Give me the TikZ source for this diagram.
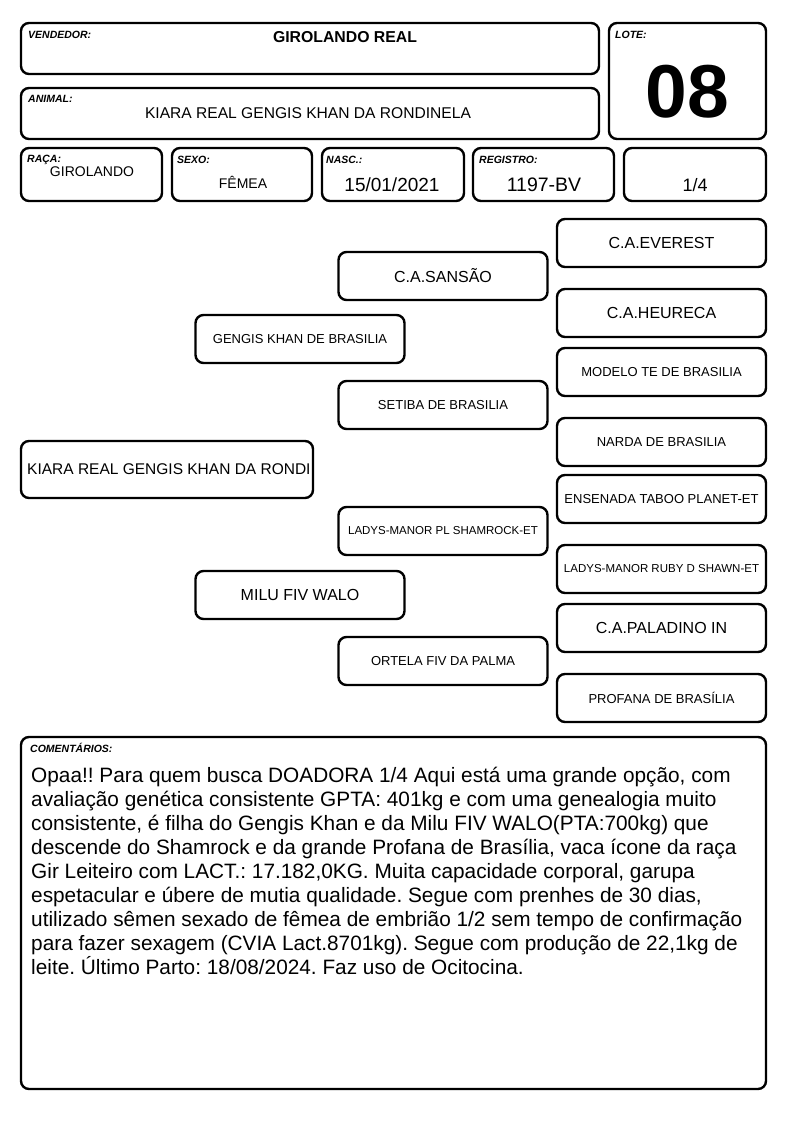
\documentclass[tikz,border=0pt]{standalone}
\usepackage{fontspec}
\setmainfont{Liberation Sans}
\usetikzlibrary{fit}

\begin{document}
\frenchspacing
\begin{tikzpicture}[x=1pt,y=-1pt]
\tikzset{card/.style={draw,line width=2.4pt,rounded corners=8pt,inner sep=0pt}}
\tikzset{tag/.style={anchor=base west,inner sep=0pt,font=\fontsize{10.5}{12}\selectfont\bfseries\itshape}}
\tikzset{ped/.style={card,minimum width=209pt,minimum height=48pt}}
\tikzset{pedbig/.style={font=\fontsize{16}{19}\selectfont}}
\tikzset{pedmid/.style={font=\fontsize{13}{15}\selectfont}}
\tikzset{pedsmall/.style={font=\fontsize{11.5}{14}\selectfont}}
\tikzset{val/.style={anchor=base,inner sep=0pt}}

\useasboundingbox (0,0) rectangle (794,1123);

% header
\node[card,fit={(21,23) (599,74)}] (vendedor) {};
\node[card,fit={(21,88) (599,139)}] (animal) {};
\node[card,fit={(609,23) (766,139)}] (lote) {};
\node[card,fit={(21,148) (162,201)}] (raca) {};
\node[card,fit={(172,148) (312,201)}] (sexo) {};
\node[card,fit={(322,148) (464,201)}] (nasc) {};
\node[card,fit={(473,148) (614,201)}] (registro) {};
\node[card,fit={(624,148) (766,201)}] (grau) {};

\node[tag] (vendedortag) at (28,39) {VENDEDOR:};
\node[tag] (animaltag) at (28,103) {ANIMAL:};
\node[tag] (lotetag) at (615,39) {LOTE:};
\node[tag] (racatag) at (27,163) {RAÇA:};
\node[tag] (sexotag) at (177,164) {SEXO:};
\node[tag] (nasctag) at (326,164) {NASC.:};
\node[tag] (registrotag) at (479,164) {REGISTRO:};

\node[val,font=\fontsize{15.8}{18}\selectfont\bfseries] (vendedorval) at (345,43) {GIROLANDO REAL};
\node[val,font=\fontsize{15.6}{18}\selectfont] (animalval) at (308,118.5) {KIARA REAL GENGIS KHAN DA RONDINELA};
\node[val,font=\fontsize{75}{80}\selectfont\bfseries] (loteval) at (687.5,118) {08};
\node[val,font=\fontsize{14}{17}\selectfont] (racaval) at (92,177) {GIROLANDO};
\node[val,font=\fontsize{14}{17}\selectfont] (sexoval) at (243,189) {FÊMEA};
\node[val,font=\fontsize{19}{21}\selectfont] (nascval) at (392,192) {15/01/2021};
\node[val,font=\fontsize{19.5}{21}\selectfont] (registroval) at (544,192) {1197-BV};
\node[val,font=\fontsize{18}{21}\selectfont] (grauval) at (695,192) {1/4};

% pedigree
\node[card,minimum width=292pt,minimum height=57pt] (kiara) at (167,469.5) {};
\node[anchor=west,inner sep=0pt,font=\fontsize{15.5}{19}\selectfont] (kiaraval) at (27,469.5) {KIARA REAL GENGIS KHAN DA RONDI};

\node[ped,pedmid] (gengis) at (300,339) {GENGIS KHAN DE BRASILIA};
\node[ped,pedbig] (milu) at (300,595) {MILU FIV WALO};

\node[ped,pedbig] (sansao) at (443,276) {C.A.SANSÃO};
\node[ped,pedmid] (setiba) at (443,405) {SETIBA DE BRASILIA};
\node[ped,pedsmall] (shamrock) at (443,531) {LADYS-MANOR PL SHAMROCK-ET};
\node[ped,pedmid] (ortela) at (443,661) {ORTELA FIV DA PALMA};

\node[ped,pedbig] (everest) at (661.5,243) {C.A.EVEREST};
\node[ped,pedbig] (heureca) at (661.5,313) {C.A.HEURECA};
\node[ped,pedmid] (modelo) at (661.5,372) {MODELO TE DE BRASILIA};
\node[ped,pedmid] (narda) at (661.5,442) {NARDA DE BRASILIA};
\node[ped,pedmid] (ensenada) at (661.5,499) {ENSENADA TABOO PLANET-ET};
\node[ped,pedsmall] (ruby) at (661.5,569) {LADYS-MANOR RUBY D SHAWN-ET};
\node[ped,pedbig] (paladino) at (661.5,628) {C.A.PALADINO IN};
\node[ped,pedmid] (profana) at (661.5,698) {PROFANA DE BRASÍLIA};

% comentarios
\node[card,fit={(21,737) (766,1089)}] (comentarios) {};
\node[tag] (comentariostag) at (30,752) {COMENTÁRIOS:};
\node[anchor=north west,inner sep=0pt,align=left,font=\fontsize{20.8}{24}\selectfont] (comentariosval) at (31,767) {%
Opaa!! Para quem busca DOADORA 1/4 Aqui está uma grande opção, com\\
avaliação genética consistente GPTA: 401kg e com uma genealogia muito\\
consistente, é filha do Gengis Khan e da Milu FIV WALO(PTA:700kg) que\\
descende do Shamrock e da grande Profana de Brasília, vaca ícone da raça\\
Gir Leiteiro com LACT.: 17.182,0KG. Muita capacidade corporal, garupa\\
espetacular e úbere de mutia qualidade. Segue com prenhes de 30 dias,\\
utilizado sêmen sexado de fêmea de embrião 1/2 sem tempo de confirmação\\
para fazer sexagem (CVIA Lact.8701kg). Segue com produção de 22,1kg de\\
leite. Último Parto: 18/08/2024. Faz uso de Ocitocina.};

\end{tikzpicture}
\end{document}
